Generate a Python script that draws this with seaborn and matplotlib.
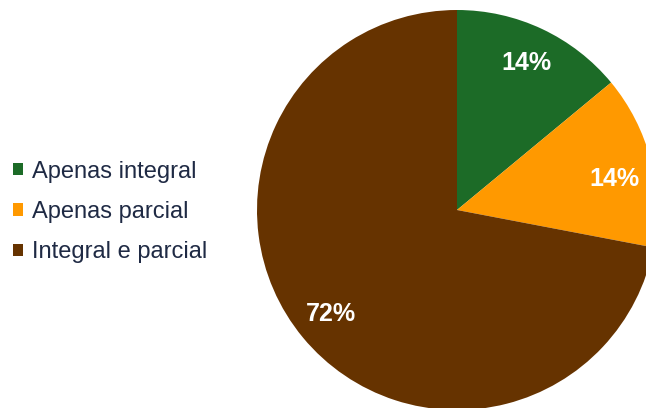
import matplotlib
matplotlib.use("Agg")
import matplotlib.pyplot as plt
from matplotlib.patches import Patch
import seaborn as sns

categories = ["Apenas integral", "Apenas parcial", "Integral e parcial"]
shares = [14, 14, 72]
colors = ["#1c6b27", "#ff9900", "#663300"]

sns.set_theme(style="white")
plt.rcParams["font.family"] = ["Liberation Sans", "DejaVu Sans"]

W, H = 646, 408
fig = plt.figure(figsize=(W / 100, H / 100), dpi=100)
fig.patch.set_facecolor("white")

# pie centred at (457, 210) px with radius 200 px
cx, cy, r = 457, 210, 200
ax = fig.add_axes([(cx - r) / W, (H - cy - r) / H, 2 * r / W, 2 * r / H])
palette = sns.color_palette(colors)
wedges, texts, autotexts = ax.pie(
    shares,
    colors=palette,
    startangle=90,
    counterclock=False,
    radius=1,
    autopct=lambda p: f"{p:.0f}%",
    pctdistance=0.815,
    wedgeprops=dict(linewidth=0),
    textprops=dict(color="white", fontsize=18, fontweight="bold"),
)
# nudge the label of the narrow right-hand slice down a little
x, y = autotexts[1].get_position()
autotexts[1].set_position((x, y - 0.05))

ax.set_xlim(-1, 1)
ax.set_ylim(-1, 1)
ax.set_aspect("equal")
ax.axis("off")

handles = [Patch(facecolor=c, edgecolor="none") for c in palette]
fig.legend(
    handles,
    categories,
    loc="center left",
    bbox_to_anchor=(1 / W, 1 - 212 / H),
    frameon=False,
    fontsize=17,
    labelcolor="#1f2a44",
    handlelength=0.42,
    handleheight=0.42,
    handletextpad=0.4,
    labelspacing=0.78,
    borderpad=0,
)

fig.savefig("out.png", dpi=100)
